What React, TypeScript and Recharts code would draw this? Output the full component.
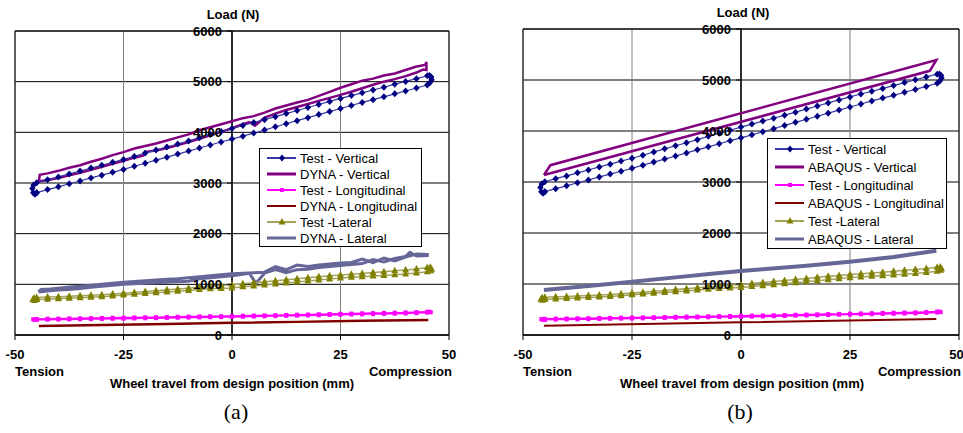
import React from "react";
import {
  CartesianGrid,
  Line,
  LineChart,
  ReferenceArea,
  ReferenceLine,
  XAxis,
  YAxis,
} from "recharts";

// wheel travel (mm) and load (N)
const X_TICKS = [-50, -25, 0, 25, 50];
const Y_TICKS = [0, 1000, 2000, 3000, 4000, 5000, 6000];

const TEST_X = [-45, -42.5, -40, -37.5, -35, -32.5, -30, -27.5, -25, -22.5, -20, -17.5, -15, -12.5, -10, -7.5, -5, -2.5, 0, 2.5, 5, 7.5, 10, 12.5, 15, 17.5, 20, 22.5, 25, 27.5, 30, 32.5, 35, 37.5, 40, 42.5, 45];

// Test - Vertical
const TV_LOAD = [2810, 2870, 2925, 2985, 3040, 3100, 3155, 3210, 3268, 3330, 3390, 3450, 3510, 3570, 3630, 3690, 3750, 3810, 3866, 3925, 3985, 4045, 4110, 4170, 4230, 4290, 4350, 4410, 4471, 4530, 4590, 4645, 4700, 4760, 4815, 4875, 4935];
const TV_UNLOAD = [3005, 3065, 3120, 3180, 3235, 3295, 3350, 3410, 3465, 3525, 3590, 3650, 3710, 3770, 3830, 3895, 3955, 4015, 4077, 4135, 4195, 4250, 4310, 4370, 4430, 4490, 4550, 4610, 4669, 4725, 4780, 4835, 4890, 4950, 5005, 5060, 5115];
const TV_END_X = [45.6, 46, 45.9, 45.5];
const TV_END = [4980, 5040, 5090, 5120];
const TV_START_X = [-45.7, -46, -45.8, -45.4];
const TV_START = [2960, 2890, 2810, 2780];

// Test - Longitudinal
const TL_LOAD = [300, 302, 305, 308, 311, 314, 317, 320, 322, 326, 330, 333, 337, 340, 344, 347, 351, 353, 355, 360, 364, 369, 373, 378, 382, 387, 391, 396, 400, 404, 408, 412, 416, 420, 424, 432, 440];
const TL_UNLOAD = [318, 322, 324, 328, 330, 334, 336, 340, 343, 346, 350, 352, 356, 360, 363, 367, 370, 373, 376, 380, 384, 388, 392, 396, 401, 405, 410, 414, 418, 423, 428, 432, 436, 441, 446, 452, 460];
const TL_END_X = [45.8, 45.5];
const TL_END = [448, 458];
const TL_START_X = [-45.8, -45.5];
const TL_START = [310, 300];

// Test - Lateral
const TLAT_LOAD = [700, 708, 716, 724, 733, 745, 757, 770, 790, 805, 820, 835, 850, 865, 880, 897, 913, 920, 930, 950, 968, 985, 1005, 1025, 1045, 1065, 1085, 1105, 1125, 1138, 1150, 1163, 1176, 1190, 1205, 1225, 1250];
const TLAT_UNLOAD = [740, 748, 757, 766, 775, 785, 796, 810, 825, 840, 857, 874, 891, 908, 925, 945, 962, 975, 990, 1010, 1030, 1050, 1070, 1090, 1110, 1130, 1150, 1168, 1185, 1200, 1215, 1232, 1250, 1268, 1285, 1305, 1330];
const TLAT_END_X = [45.8, 46, 45.7];
const TLAT_END = [1270, 1300, 1335];
const TLAT_START_X = [-45.6, -45.9, -45.5];
const TLAT_START = [730, 700, 680];

// DYNA - Vertical
const DV_UP_X = [-44.5, -44.3, -42.5, -40, -37.5, -35, -32.5, -30, -27.5, -25, -22.5, -20, -17.5, -15, -12.5, -10, -7.5, -5, -2.5, 0, 2.5, 5, 7.5, 10, 12.5, 15, 17.5, 20, 22.5, 25, 27.5, 30, 32.5, 35, 37.5, 40, 42.5, 44.5, 44.8];
const DV_UP = [3030, 3160, 3190, 3240, 3300, 3350, 3420, 3480, 3550, 3610, 3680, 3730, 3780, 3840, 3900, 3960, 4040, 4100, 4160, 4220, 4280, 4320, 4390, 4470, 4530, 4590, 4640, 4720, 4800, 4880, 4950, 5020, 5060, 5120, 5160, 5230, 5300, 5330, 5390];
const DV_DOWN_X = [44.8, 44, 42.5, 40, 37.5, 35, 32.5, 30, 27.5, 25, 22.5, 20, 17.5, 15, 12.5, 10, 7.5, 5.3, 4, 2.5, 0, -2.5, -5, -7.5, -10, -12.5, -15, -17.5, -19.5, -20.5, -22.5, -25, -27.5, -30, -32.5, -35, -37.5, -40, -42.5, -44.5];
const DV_DOWN = [5230, 5240, 5180, 5110, 5050, 5000, 4940, 4870, 4800, 4740, 4680, 4620, 4560, 4500, 4440, 4370, 4290, 4130, 4200, 4160, 4080, 4010, 3940, 3870, 3810, 3750, 3690, 3640, 3620, 3540, 3500, 3440, 3380, 3320, 3260, 3200, 3150, 3100, 3060, 3030];

// DYNA - Longitudinal
const DL_UP_X = [-44.5, -30, -15, 0, 15, 30, 45];
const DL_UP = [172, 192, 212, 235, 258, 278, 292];
const DL_DOWN_X = [45, 30, 15, 0, -15, -30, -44.5];
const DL_DOWN = [300, 285, 262, 245, 222, 200, 182];

// DYNA - Lateral
const DLAT_A_X = [-44.6, -44, -42, -40, -37.5, -35, -32.5, -30, -27.5, -25, -22.5, -20, -17.5, -15, -12.5, -10, -7.5, -5, -2.5, 0, 2.5, 5, 7.5, 10, 12.5, 15, 17.5, 20, 22.5, 25, 27.5, 30, 32.5, 35, 37.5, 40, 42.5, 45];
const DLAT_A = [850, 900, 910, 925, 945, 960, 980, 1000, 1020, 1040, 1055, 1070, 1085, 1100, 1110, 1130, 1150, 1170, 1190, 1210, 1220, 1230, 1240, 1350, 1290, 1380, 1350, 1380, 1400, 1420, 1430, 1500, 1430, 1520, 1460, 1540, 1600, 1590];
const DLAT_B_X = [45, 42.5, 41, 40, 37.5, 35, 32.5, 30, 27.5, 25, 22.5, 20, 17.5, 15, 12.5, 10, 7.5, 5.5, 4, 2.5, 0, -2.5, -5, -7.5, -10, -12.5, -15, -17.5, -20, -22.5, -25, -27.5, -30, -32.5, -35, -37.5, -40, -42.5, -44.6];
const DLAT_B = [1570, 1560, 1630, 1550, 1510, 1440, 1490, 1410, 1390, 1370, 1350, 1330, 1300, 1290, 1230, 1290, 1220, 1020, 1220, 1200, 1170, 1150, 1130, 1110, 1060, 1050, 1040, 1030, 1020, 1010, 1000, 980, 960, 940, 920, 900, 890, 870, 850];

// ABAQUS
const AV_X = [-45.2, -43.7, 44.8, 43.3, -45.2];
const AV = [3137, 3330, 5390, 5180, 3137];
const ALON_X = [-45.2, 0, 44.8];
const ALON = [183, 249, 314];
const ALAT_X = [-45.2, -35, -25, -15, -5, 0, 5, 15, 25, 35, 44.8];
const ALAT = [882, 962, 1046, 1130, 1215, 1255, 1290, 1360, 1437, 1530, 1653];

const LEGEND_A = ["Test - Vertical", "DYNA - Vertical", "Test - Longitudinal", "DYNA - Longitudinal", "Test -Lateral", "DYNA - Lateral"];
const LEGEND_B = ["Test - Vertical", "ABAQUS - Vertical", "Test - Longitudinal", "ABAQUS - Longitudinal", "Test -Lateral", "ABAQUS - Lateral"];

type Pt = { x: number; y: number };
const pts = (xs: number[], ys: number[]): Pt[] => xs.map((x, i) => ({ x, y: ys[i] }));
const loop = (lo: number[], up: number[], ex: number[], ey: number[], sx: number[], sy: number[]) => [
  ...pts(TEST_X, lo),
  ...pts(ex, ey),
  ...pts(TEST_X, up).reverse(),
  ...pts(sx, sy),
  ...pts(TEST_X, lo).slice(0, 1),
];

const testVertical = loop(TV_LOAD, TV_UNLOAD, TV_END_X, TV_END, TV_START_X, TV_START);
const testLong = loop(TL_LOAD, TL_UNLOAD, TL_END_X, TL_END, TL_START_X, TL_START);
const testLat = loop(TLAT_LOAD, TLAT_UNLOAD, TLAT_END_X, TLAT_END, TLAT_START_X, TLAT_START);
const dynaVertical = [...pts(DV_UP_X, DV_UP), ...pts(DV_DOWN_X, DV_DOWN)];
const dynaLong = [...pts(DL_UP_X, DL_UP), ...pts(DL_DOWN_X, DL_DOWN)];
const dynaLat = [...pts(DLAT_A_X, DLAT_A), ...pts(DLAT_B_X, DLAT_B)];
const abaqusVertical = pts(AV_X, AV);
const abaqusLong = pts(ALON_X, ALON);
const abaqusLat = pts(ALAT_X, ALAT);

const FONT = "'Liberation Sans', Arial, sans-serif";
const C = {
  tvLine: "#3a3aa6",
  tvDot: "#000080",
  tl: "#ff00ff",
  tlatLine: "#a3a35a",
  tlatDot: "#808000",
  simV: "#800080",
  simL: "#800000",
  simLat: "#666699",
};

const diamond = (p: any) =>
  p.cx == null ? null : (
    <path key={`d${p.index}`} d={`M${p.cx},${p.cy - 3.5}L${p.cx + 3.2},${p.cy}L${p.cx},${p.cy + 3.5}L${p.cx - 3.2},${p.cy}Z`} fill={C.tvDot} />
  );
const square = (p: any) =>
  p.cx == null ? null : <rect key={`s${p.index}`} x={p.cx - 2} y={p.cy - 2} width={4} height={4} fill={C.tl} />;
const triangle = (p: any) =>
  p.cx == null ? null : (
    <path key={`t${p.index}`} d={`M${p.cx},${p.cy - 4}L${p.cx + 3.5},${p.cy + 2.5}L${p.cx - 3.5},${p.cy + 2.5}Z`} fill={C.tlatDot} />
  );

// y labels sit on the x = 0 axis, not on the plot's left edge
const makeYTick = (x0: number) => (props: any) => (
  <g>
    <line x1={x0 - 5} x2={x0} y1={props.y} y2={props.y} stroke="#000" />
    <text x={x0 - 10} y={props.y} dy="0.36em" textAnchor="end" fontFamily={FONT} fontWeight="bold" fontSize={13} fill="#000">
      {props.payload.value}
    </text>
  </g>
);

const Y_W = 1;

function Panel({ width, margin, sim }: { width: number; margin: any; sim: "dyna" | "abaqus" }) {
  const left = margin.left + Y_W;
  const x0 = left + (width - left - margin.right) / 2;
  return (
    <LineChart width={width} height={433} margin={margin}>
      <CartesianGrid vertical={false} stroke="#000" />
      <CartesianGrid horizontal={false} stroke="#808080" />
      <XAxis
        dataKey="x"
        type="number"
        domain={[-50, 50]}
        ticks={X_TICKS}
        allowDataOverflow
        height={30}
        stroke="#000"
        tickSize={5}
        tickMargin={10}
        tick={{ fill: "#000", fontSize: 13, fontWeight: "bold", fontFamily: FONT }}
      />
      <YAxis
        type="number"
        domain={[0, 6000]}
        ticks={Y_TICKS}
        width={Y_W}
        axisLine={false}
        tickLine={false}
        tick={makeYTick(x0)}
      />
      <ReferenceArea x1={-50} x2={50} y1={0} y2={6000} fill="none" stroke="#000" strokeWidth={1} />
      <ReferenceLine x={0} stroke="#000" strokeWidth={1.5} />

      {sim === "dyna" ? (
        <>
          <Line data={dynaLat} dataKey="y" stroke={C.simLat} strokeWidth={3} dot={false} isAnimationActive={false} />
          <Line data={dynaLong} dataKey="y" stroke={C.simL} strokeWidth={2} dot={false} isAnimationActive={false} />
          <Line data={dynaVertical} dataKey="y" stroke={C.simV} strokeWidth={2.5} dot={false} isAnimationActive={false} />
        </>
      ) : (
        <>
          <Line data={abaqusLat} dataKey="y" stroke={C.simLat} strokeWidth={4} dot={false} isAnimationActive={false} />
          <Line data={abaqusLong} dataKey="y" stroke={C.simL} strokeWidth={2} dot={false} isAnimationActive={false} />
          <Line data={abaqusVertical} dataKey="y" stroke={C.simV} strokeWidth={2.5} dot={false} isAnimationActive={false} />
        </>
      )}
      <Line data={testLat} dataKey="y" stroke={C.tlatLine} strokeWidth={1.5} dot={triangle} isAnimationActive={false} />
      <Line data={testLong} dataKey="y" stroke={C.tl} strokeWidth={1.5} dot={square} isAnimationActive={false} />
      <Line data={testVertical} dataKey="y" stroke={C.tvLine} strokeWidth={1.2} dot={diamond} isAnimationActive={false} />
    </LineChart>
  );
}

const SAMPLES = [
  { stroke: C.tvLine, w: 2, mark: "diamond", mc: C.tvDot },
  { stroke: C.simV, w: 3, mark: "", mc: "" },
  { stroke: C.tl, w: 2, mark: "square", mc: C.tl },
  { stroke: C.simL, w: 2, mark: "", mc: "" },
  { stroke: C.tlatLine, w: 2, mark: "triangle", mc: C.tlatDot },
  { stroke: C.simLat, w: 3, mark: "", mc: "" },
];

function LegendBox({ left, top, width, rowH, labels }: { left: number; top: number; width: number; rowH: number; labels: string[] }) {
  return (
    <div
      style={{
        position: "absolute",
        left,
        top,
        width,
        height: rowH * 6 + 3,
        boxSizing: "border-box",
        border: "1px solid #000",
        background: "#fff",
        paddingTop: 1,
        fontFamily: FONT,
        fontSize: 13,
        color: "#000",
      }}
    >
      {labels.map((name, i) => {
        const s = SAMPLES[i];
        return (
          <div key={name} style={{ height: rowH, display: "flex", alignItems: "center", whiteSpace: "nowrap" }}>
            <svg width={30} height={10} style={{ marginLeft: 7, marginRight: 3 }}>
              <line x1={0} x2={29} y1={5} y2={5} stroke={s.stroke} strokeWidth={s.w} />
              {s.mark === "diamond" && <path d="M15,1.5L18,5L15,8.5L12,5Z" fill={s.mc} />}
              {s.mark === "square" && <rect x={13} y={3} width={4} height={4} fill={s.mc} />}
              {s.mark === "triangle" && <path d="M15,1L18.5,7.5L11.5,7.5Z" fill={s.mc} />}
            </svg>
            <span>{name}</span>
          </div>
        );
      })}
    </div>
  );
}

const txt = (left: number, cy: number, text: string, align: "left" | "center" | "right", extra: any = {}) => {
  const style: any = {
    position: "absolute",
    top: cy - 9,
    height: 18,
    lineHeight: "18px",
    whiteSpace: "nowrap",
    fontFamily: FONT,
    fontWeight: "bold",
    fontSize: 13,
    color: "#000",
    ...extra,
  };
  style.left = left;
  if (align === "center") style.transform = "translateX(-50%)";
  if (align === "right") style.transform = "translateX(-100%)";
  return (
    <div key={text + left} style={style}>
      {text}
    </div>
  );
};

const serif = { fontFamily: "'Liberation Serif', 'Times New Roman', serif", fontWeight: "normal", fontSize: 22, height: 26, lineHeight: "26px", top: 399 };

export default function App() {
  return (
    <div style={{ position: "absolute", left: 0, top: 0, width: 963, height: 433, background: "#fff", overflow: "hidden" }}>
      <div style={{ position: "absolute", left: 0, top: 0 }}>
        <Panel width={480} margin={{ top: 31, right: 31, bottom: 68, left: 14 }} sim="dyna" />
      </div>
      <div style={{ position: "absolute", left: 480, top: 0 }}>
        <Panel width={483} margin={{ top: 29, right: 4, bottom: 68, left: 42 }} sim="abaqus" />
      </div>

      <LegendBox left={259} top={148} width={163} rowH={16} labels={LEGEND_A} />
      <LegendBox left={767} top={138} width={180} rowH={18} labels={LEGEND_B} />

      {txt(233, 15, "Load (N)", "center")}
      {txt(15, 372, "Tension", "left")}
      {txt(452, 372, "Compression", "right")}
      {txt(232, 384, "Wheel travel from design position (mm)", "center")}
      {txt(236, 412, "(a)", "center", serif)}

      {txt(743, 13, "Load (N)", "center")}
      {txt(523, 372, "Tension", "left")}
      {txt(961, 372, "Compression", "right")}
      {txt(742, 384, "Wheel travel from design position (mm)", "center")}
      {txt(740, 412, "(b)", "center", serif)}
    </div>
  );
}
